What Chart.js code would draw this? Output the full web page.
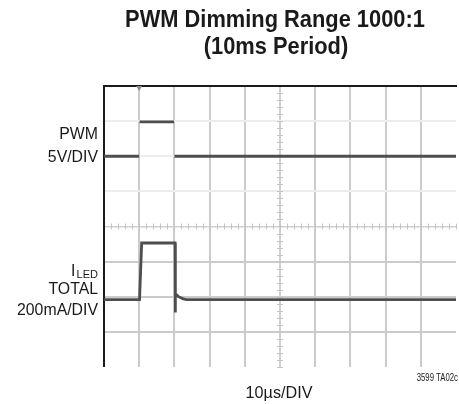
<!DOCTYPE html>
<html>
<head>
<meta charset="utf-8">
<script src="https://cdn.jsdelivr.net/npm/chart.js@4.4.1/dist/chart.umd.min.js"></script>
<style>
  body { margin: 0; background: #fff; }
  canvas { display: block; }
</style>
</head>
<body>
<canvas id="scope" width="459" height="404"></canvas>
<script>
// PWM gate signal, volts vs time (us). null = edge too fast to show
const pwmTime  = [0, 10.0, 10.05, 10.1, 19.9, 19.95, 20.0, 100];
const pwmVolts = [0, 0,    null,  4.9,  4.9,  null,  0,    0];

// total LED current, mA vs time (us)
const ledTime      = [0, 10.1, 10.7, 20.2, 20.25, 20.3, 20.6, 21.3, 22.5, 23.5, 100];
const ledMilliamps = [0, 0,    322,  322,  -74,   30,   28,   15,   4,    0,    0];

// screen setup: 10 divisions of 10us, 8 vertical divisions
const timePerDiv = 10;
const pwmVoltsPerDiv = 5;
const ledMaPerDiv = 200;
const pwmZeroDiv = 2;     // PWM ground line, divisions above center
const ledZeroDiv = -2.08; // I_LED ground line

const toPoints = (xs, ys, zero, perDiv) =>
  xs.map((t, i) => ({ x: t, y: ys[i] === null ? null : zero + ys[i] / perDiv }));

const FONT = '"Liberation Sans", Arial, sans-serif';

// labels, frame, center graticule ticks
const scopeDecor = {
  id: 'scopeDecor',
  beforeDatasetsDraw(chart) {
    const { ctx, chartArea: a, scales: { x, y } } = chart;
    const cx = x.getPixelForValue(50), cy = y.getPixelForValue(0);
    ctx.save();
    ctx.strokeStyle = '#c4c4c4';
    ctx.lineWidth = 1;
    ctx.beginPath();
    // minor ticks on the center axes, 5 per division
    for (let t = 0; t <= 100; t += 2) {
      const px = Math.round(x.getPixelForValue(t)) + 0.5;
      ctx.moveTo(px, cy - 3); ctx.lineTo(px, cy + 3);
    }
    for (let v = -4; v <= 4; v += 0.2) {
      const py = Math.round(y.getPixelForValue(v)) + 0.5;
      ctx.moveTo(cx - 3, py); ctx.lineTo(cx + 3, py);
    }
    ctx.stroke();
    // frame: top and left edges only
    ctx.strokeStyle = '#1a1a1a';
    ctx.lineWidth = 2;
    ctx.beginPath();
    ctx.moveTo(a.left, a.bottom); ctx.lineTo(a.left, a.top); ctx.lineTo(a.right + 1, a.top);
    ctx.stroke();
    // trigger position marker
    const tx = x.getPixelForValue(10);
    ctx.fillStyle = '#8a8a8a';
    ctx.beginPath();
    ctx.moveTo(tx - 3, a.top); ctx.lineTo(tx + 3, a.top); ctx.lineTo(tx, a.top + 5);
    ctx.fill();
    ctx.restore();
  },
  afterDraw(chart) {
    const { ctx } = chart;
    const squeezed = (text, px, py, font, sx, align) => {
      ctx.save();
      ctx.font = font;
      ctx.translate(px, py);
      ctx.scale(sx, 1);
      ctx.textAlign = align;
      ctx.fillText(text, 0, 0);
      ctx.restore();
    };
    ctx.save();
    ctx.fillStyle = '#1a1a1a';
    ctx.textBaseline = 'alphabetic';

    const tf = 'bold 24px ' + FONT;
    squeezed('PWM Dimming Range 1000:1', 275, 27, tf, 0.91, 'center');
    squeezed('(10ms Period)', 276, 54, tf, 0.91, 'center');

    const lf = '16.5px ' + FONT;
    squeezed('PWM', 98, 139, lf, 0.96, 'right');
    squeezed('5V/DIV', 98, 161.5, lf, 0.96, 'right');

    squeezed('LED', 98, 278, '11.5px ' + FONT, 0.96, 'right');
    ctx.font = '11.5px ' + FONT;
    const ledW = ctx.measureText('LED').width * 0.96;
    squeezed('I', 97 - ledW, 276, lf, 0.96, 'right');
    squeezed('TOTAL', 98, 293.5, lf, 0.96, 'right');
    squeezed('200mA/DIV', 98, 314.5, lf, 0.96, 'right');

    squeezed('10\u00b5s/DIV', 279, 397.5, lf, 0.98, 'center');
    squeezed('3599 TA02c', 458, 381, '10.5px ' + FONT, 0.74, 'right');
    ctx.restore();
  }
};

const traceStyle = {
  borderColor: '#4e4e4e',
  borderWidth: 2.8,
  pointRadius: 0,
  showLine: true,
  spanGaps: false,
  tension: 0
};

new Chart(document.getElementById('scope'), {
  type: 'scatter',
  data: {
    datasets: [
      { label: 'PWM', data: toPoints(pwmTime, pwmVolts, pwmZeroDiv, pwmVoltsPerDiv), ...traceStyle },
      { label: 'I_LED', data: toPoints(ledTime, ledMilliamps, ledZeroDiv, ledMaPerDiv), ...traceStyle }
    ]
  },
  options: {
    responsive: false,
    animation: false,
    devicePixelRatio: 1,
    layout: { padding: { left: 104, top: 86, right: 3, bottom: 37 } },
    plugins: { legend: { display: false }, tooltip: { enabled: false }, title: { display: false } },
    scales: {
      x: {
        type: 'linear', min: 0, max: 10 * timePerDiv,
        ticks: { display: false, stepSize: timePerDiv },
        border: { display: false },
        grid: {
          drawTicks: false,
          lineWidth: 2,
          color: c => (c.tick.value === 0 || c.tick.value === 100) ? 'rgba(0,0,0,0)'
                   : c.tick.value === 50 ? '#d0d0d0' : '#cbcbcb'
        }
      },
      y: {
        type: 'linear', min: -4, max: 4,
        ticks: { display: false, stepSize: 1 },
        border: { display: false },
        grid: {
          drawTicks: false,
          lineWidth: c => c.tick.value === 0 ? 1.5 : 2,
          color: c => (c.tick.value === -4 || c.tick.value === 4) ? 'rgba(0,0,0,0)'
                   : c.tick.value === 0 ? '#d0d0d0'
                   : c.tick.value > 0 ? '#ededed' : '#cbcbcb'
        }
      }
    }
  },
  plugins: [scopeDecor]
});
</script>
</body>
</html>
